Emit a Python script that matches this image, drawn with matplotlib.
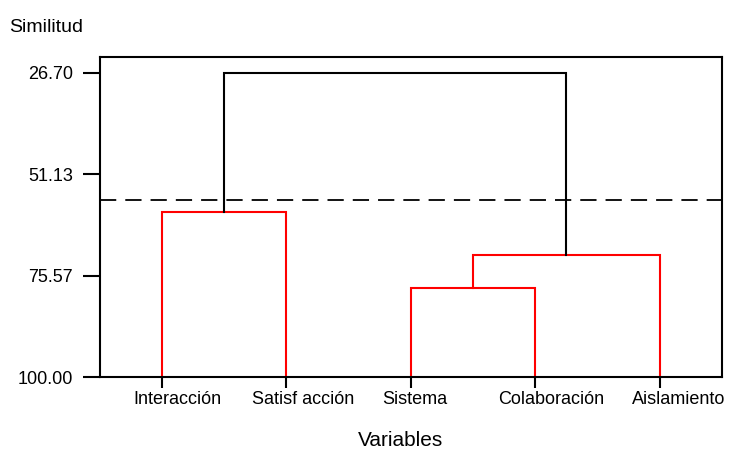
import matplotlib.pyplot as plt
import matplotlib.transforms as mtransforms

plt.rcParams['font.family'] = ['Liberation Sans', 'DejaVu Sans']

# variables (hojas) y niveles de similitud
variables = ['Interacción', 'Satisf acción', 'Sistema', 'Colaboración', 'Aislamiento']
yticks = [26.70, 51.13, 75.57, 100.00]
corte = 57.3  # linea de corte

# similitud de cada union
sim_int_sat = 60.2
sim_sis_col = 78.5
sim_sc_ais = 70.6
sim_top = 26.70

fig = plt.figure(figsize=(7.29, 4.51), dpi=100)
ax = fig.add_axes([0.137, 0.164, 0.853, 0.710])

def link(ax, x1, y1, x2, y2, h, color):
    ax.plot([x1, x1, x2, x2], [y1, h, h, y2], color=color, lw=1.5,
            solid_joinstyle='miter')

pos = [1, 2, 3, 4, 5]
# Interaccion - Satisfaccion
link(ax, pos[0], 100, pos[1], 100, sim_int_sat, 'red')
c1 = (pos[0] + pos[1]) / 2
# Sistema - Colaboracion
link(ax, pos[2], 100, pos[3], 100, sim_sis_col, 'red')
c2 = (pos[2] + pos[3]) / 2
# (Sistema,Colaboracion) - Aislamiento
link(ax, c2, sim_sis_col, pos[4], 100, sim_sc_ais, 'red')
c3 = (c2 + pos[4]) / 2
# union final
link(ax, c1, sim_int_sat, c3, sim_sc_ais, sim_top, 'black')

ax.axhline(corte, color='black', lw=1.3, dashes=(9, 5))

ax.set_xlim(0.5, 5.5)
ax.set_ylim(100, 22.84)
ax.set_xticks(pos)
ax.set_xticklabels(variables, fontsize=13)
ax.set_yticks(yticks)
ax.set_yticklabels(['%.2f' % v for v in yticks], fontsize=13)
ax.tick_params(axis='x', direction='out', length=8, width=1.5, pad=2)
ax.tick_params(axis='y', direction='out', length=12.5, width=1.5, pad=7)
for s in ax.spines.values():
    s.set_linewidth(1.5)

# las etiquetas del original quedan algo corridas a la derecha
desplaz = [15, 17, 4, 16, 19]
for lab, dx in zip(ax.get_xticklabels(), desplaz):
    off = mtransforms.ScaledTranslation(dx / 100, 0, fig.dpi_scale_trans)
    lab.set_transform(lab.get_transform() + off)

ax.set_xlabel('Variables', fontsize=15)
ax.xaxis.set_label_coords(0.484, -0.168)
fig.text(0.013, 0.93, 'Similitud', fontsize=14)

fig.savefig('out.png')
